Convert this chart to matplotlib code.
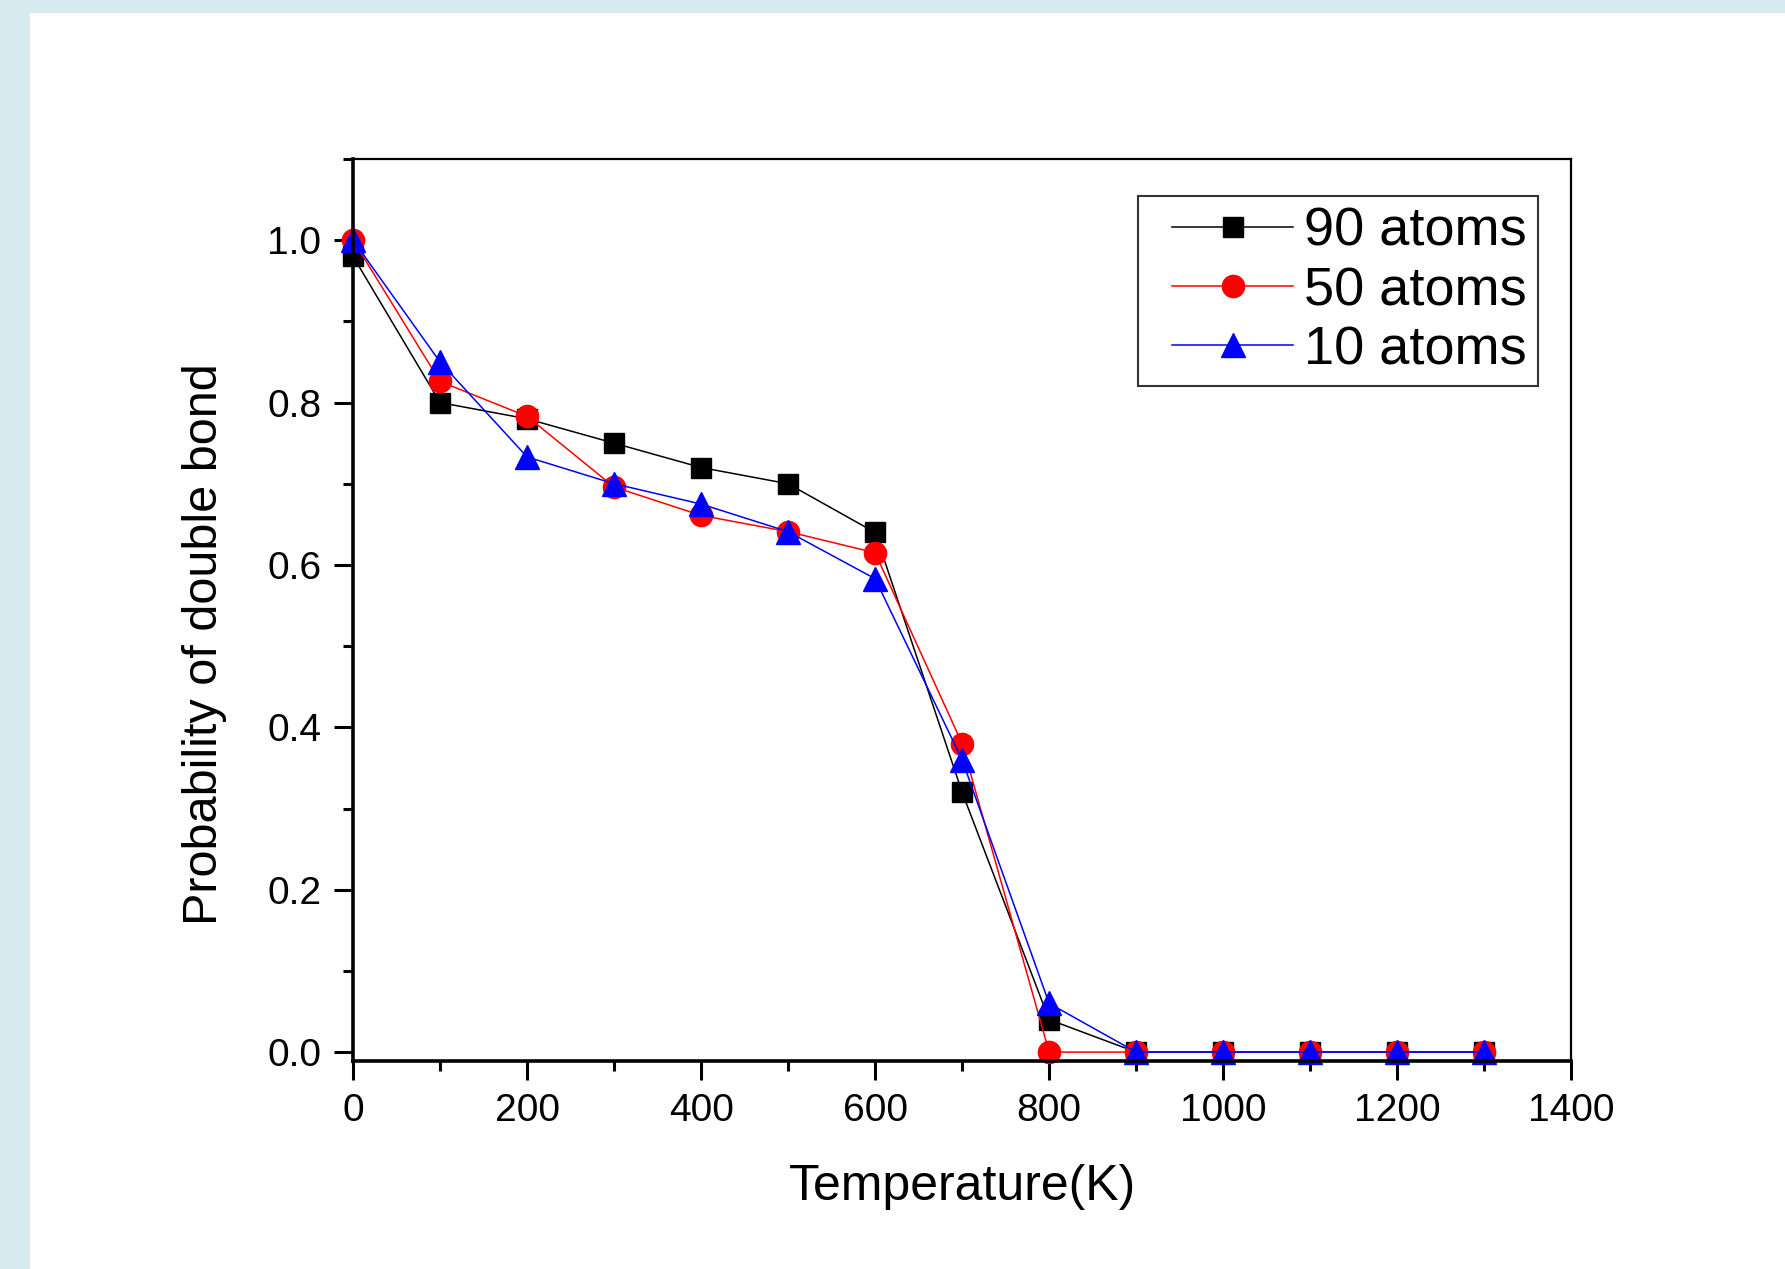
import matplotlib
matplotlib.use("Agg")
import matplotlib.pyplot as plt
from matplotlib.patches import Rectangle
from matplotlib.lines import Line2D
from matplotlib.legend_handler import HandlerLine2D
from matplotlib.ticker import MultipleLocator

plt.rcParams['font.family'] = ['Liberation Sans', 'DejaVu Sans']

temps = [0, 100, 200, 300, 400, 500, 600, 700, 800, 900, 1000, 1100, 1200, 1300]
p90 = [0.98, 0.80, 0.78, 0.75, 0.72, 0.70, 0.64, 0.32, 0.04, 0, 0, 0, 0, 0]
p50 = [1.00, 0.826, 0.783, 0.696, 0.661, 0.641, 0.615, 0.38, 0.0, 0, 0, 0, 0, 0]
p10 = [1.00, 0.85, 0.733, 0.70, 0.675, 0.641, 0.583, 0.36, 0.06, 0, 0, 0, 0, 0]
labels = ['90 atoms', '50 atoms', '10 atoms']
yticks = [0, 0.2, 0.4, 0.6, 0.8, 1.0]
ytick_labels = ['0.0', '0.2', '0.4', '0.6', '0.8', '1.0']

fig = plt.figure(figsize=(17.85, 12.69), dpi=100)
fig.patch.set_facecolor('#d7eaef')
fig.add_artist(Rectangle((30 / 1785, 0), 1, 1 - 13 / 1269, transform=fig.transFigure,
                         facecolor='white', edgecolor='none', zorder=0))

ax = fig.add_axes([0.1978, 0.1639, 0.6824, 0.7108])

ax.plot(temps, p90, '-s', color='black', lw=1.1, ms=14, label=labels[0], clip_on=False)
ax.plot(temps, p50, '-o', color='red', lw=1.1, ms=16, label=labels[1], clip_on=False)
ax.plot(temps, p10, '-^', color='blue', lw=1.1, ms=17, label=labels[2], clip_on=False)

ax.set_xlim(0, 1400)
ax.set_ylim(-0.011, 1.1)
ax.xaxis.set_major_locator(MultipleLocator(200))
ax.xaxis.set_minor_locator(MultipleLocator(100))
ax.yaxis.set_minor_locator(MultipleLocator(0.1))
ax.set_yticks(yticks)
ax.set_yticklabels(ytick_labels)

ax.tick_params(which='major', direction='out', length=14, width=2.2, labelsize=28, pad=9)
ax.tick_params(which='minor', direction='out', length=7, width=2.2)
ax.tick_params(top=False, right=False, which='both')

for s in ['left', 'bottom']:
    ax.spines[s].set_linewidth(2.6)
for s in ['top', 'right']:
    ax.spines[s].set_linewidth(1.6)

ax.set_xlabel('Temperature(K)', fontsize=36, labelpad=25)
ax.set_ylabel('Probability of double bond', fontsize=35, labelpad=29)
ax.yaxis.label.set_y(0.462)

leg = ax.legend(loc='upper right', bbox_to_anchor=(0.9727, 0.959), fontsize=39,
                frameon=True, fancybox=False, edgecolor='#333333', framealpha=1,
                handlelength=2.67, handletextpad=0.2, borderpad=0.2, labelspacing=0.17,
                borderaxespad=0, handler_map={Line2D: HandlerLine2D(xpad=0.43)})
leg.get_frame().set_linewidth(1.5)

fig.savefig('out.png', dpi=100)
